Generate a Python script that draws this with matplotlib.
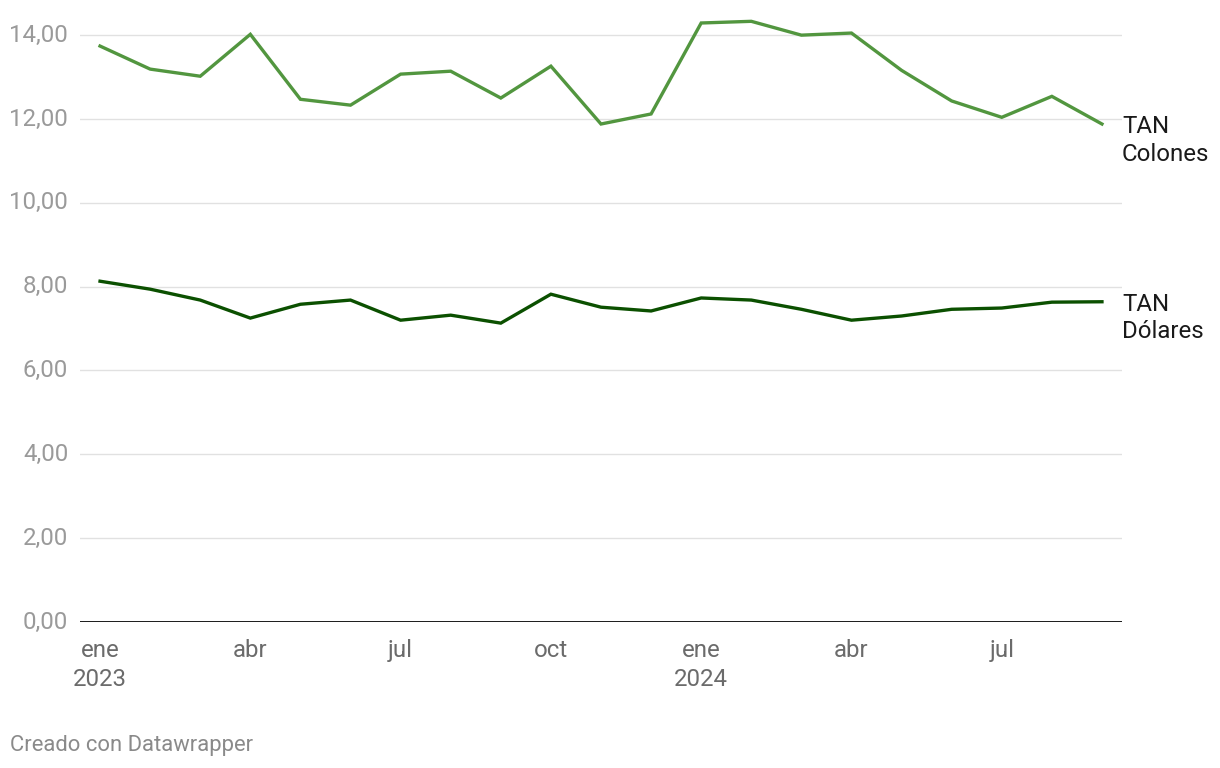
import matplotlib
matplotlib.use("Agg")
import matplotlib.pyplot as plt

plt.rcParams['font.family'] = ['Roboto', 'DejaVu Sans']

months = ["ene 2023", "feb 2023", "mar 2023", "abr 2023", "may 2023", "jun 2023",
          "jul 2023", "ago 2023", "sep 2023", "oct 2023", "nov 2023", "dic 2023",
          "ene 2024", "feb 2024", "mar 2024", "abr 2024", "may 2024", "jun 2024",
          "jul 2024", "ago 2024", "sep 2024"]
tan_colones = [13.74, 13.19, 13.02, 14.02, 12.47, 12.33, 13.07, 13.14, 12.50, 13.26,
               11.88, 12.12, 14.29, 14.33, 14.00, 14.05, 13.16, 12.43, 12.04, 12.54, 11.88]
tan_dolares = [8.13, 7.94, 7.68, 7.25, 7.58, 7.68, 7.20, 7.32, 7.13, 7.82,
               7.51, 7.42, 7.73, 7.68, 7.46, 7.20, 7.30, 7.46, 7.49, 7.63, 7.64]
xtick_pos = [0, 3, 6, 9, 12, 15, 18]
xtick_labels = ["ene\n2023", "abr", "jul", "oct", "ene\n2024", "abr", "jul"]
yticks = [0, 2, 4, 6, 8, 10, 12, 14]
series_labels = ["TAN\nColones", "TAN\nDólares"]

c_col = "#52963f"
c_dol = "#0b5000"
FS = 17.3

fig = plt.figure(figsize=(12.2, 7.68), dpi=100)
ax = fig.add_axes([80/1220, 1-622/768, (1122-80)/1220, (622-10)/768])

x = list(range(len(months)))
ax.plot(x, tan_colones, color=c_col, lw=2.4, solid_joinstyle='miter', zorder=3)
ax.plot(x, tan_dolares, color=c_dol, lw=2.4, solid_joinstyle='miter', zorder=3)

ax.set_xlim(-0.4, 20.4)
ax.set_ylim(0, 14.6)

for yv in yticks[1:]:
    ax.axhline(yv, color="#e1e1e1", lw=1.0, zorder=1)
ax.axhline(0, color="#1a1a1a", lw=1.4, zorder=2)

ax.set_yticks(yticks)
ax.set_yticklabels([f"{v:.2f}".replace(".", ",") for v in yticks],
                   color="#9a9a9a", fontsize=FS)
ax.set_xticks(xtick_pos)
ax.set_xticklabels(xtick_labels, color="#6b6b6b", fontsize=FS, linespacing=1.33)
ax.tick_params(axis='both', length=0)
ax.tick_params(axis='y', pad=8.5)
ax.tick_params(axis='x', pad=12)
for lbl in ax.get_yticklabels():
    lbl.set_verticalalignment('center')
for s in ax.spines.values():
    s.set_visible(False)

for vals, lab in zip([tan_colones, tan_dolares], series_labels):
    ax.annotate(lab, xy=(x[-1], vals[-1]), xytext=(14.5, -26.3), textcoords='offset points',
                ha='left', va='baseline', fontsize=FS, color="#1a1a1a",
                linespacing=1.25, annotation_clip=False)

fig.text(10/1220, 1-745/768, "Creado con Datawrapper", color="#8a8a8a",
         fontsize=15.8, ha='left', va='center')

fig.savefig("out.png", dpi=100, facecolor="white")
